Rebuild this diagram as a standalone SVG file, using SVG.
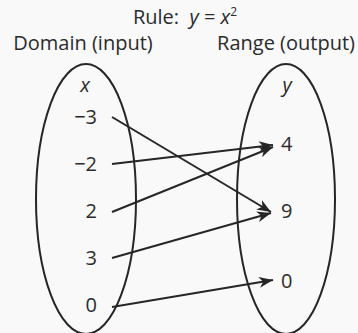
<svg xmlns="http://www.w3.org/2000/svg" width="358" height="333" viewBox="0 0 358 333">
<defs>
<style>
.t{font-family:"Open Sans","Liberation Sans",sans-serif;fill:#2b2b2b;}
.h{font-size:20px;}
.v{font-size:20px;}
.i{font-style:italic;}
.ell{fill:none;stroke:#262626;stroke-width:2;}
.c{stroke:#262626;stroke-width:2;fill:none;marker-end:url(#ah);}
</style>
<marker id="ah" markerUnits="userSpaceOnUse" markerWidth="15" markerHeight="12" refX="14" refY="5.5" orient="auto" viewBox="0 0 15 11">
<path d="M0,0 L14,5.5 L0,11 L4,5.5 z" fill="#262626"/>
</marker>
</defs>
<rect width="358" height="333" fill="#f9f9f9"/>
<g id="title">
<text class="t h" x="185" y="24" text-anchor="middle" xml:space="preserve">Rule:  <tspan class="i">y</tspan> = <tspan class="i">x</tspan><tspan font-size="12" dy="-8">2</tspan></text>
</g>
<g id="domain">
<text class="t h" x="83" y="50" text-anchor="middle">Domain (input)</text>
<ellipse class="ell" cx="86" cy="199" rx="50" ry="135"/>
<text class="t v i" x="85" y="92" text-anchor="middle">x</text>
<text class="t v" x="97" y="124" text-anchor="end">−3</text>
<text class="t v" x="97" y="171" text-anchor="end">−2</text>
<text class="t v" x="97" y="218" text-anchor="end">2</text>
<text class="t v" x="97" y="265" text-anchor="end">3</text>
<text class="t v" x="97" y="312" text-anchor="end">0</text>
</g>
<g id="range">
<text class="t h" x="286" y="50" text-anchor="middle">Range (output)</text>
<ellipse class="ell" cx="286" cy="199" rx="49" ry="135"/>
<text class="t v i" x="287" y="92" text-anchor="middle">y</text>
<text class="t v" x="281" y="151">4</text>
<text class="t v" x="281" y="218">9</text>
<text class="t v" x="281" y="288">0</text>
</g>
<g id="connectors">
<line class="c" x1="112" y1="117" x2="271" y2="212"/>
<line class="c" x1="112" y1="164" x2="273" y2="145"/>
<line class="c" x1="112" y1="212" x2="273" y2="147"/>
<line class="c" x1="112" y1="258" x2="271" y2="213"/>
<line class="c" x1="112" y1="307" x2="273" y2="280"/>
</g>
</svg>
